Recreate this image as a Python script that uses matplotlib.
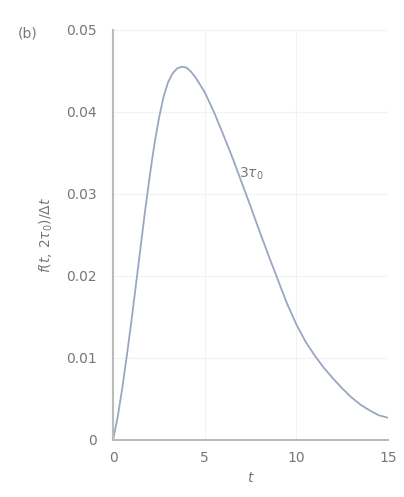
import matplotlib
matplotlib.use("Agg")
import matplotlib.pyplot as plt

# Curve values
t_vals = [0.0, 0.25, 0.5, 0.75, 1.0, 1.25, 1.5, 1.75, 2.0, 2.25, 2.5, 2.75, 3.0, 3.25, 3.5,
          3.75, 4.0, 4.25, 4.5, 5.0, 5.5, 6.0, 6.5, 7.0, 7.5, 8.0, 8.5, 9.0, 9.5, 10.0,
          10.5, 11.0, 11.5, 12.0, 12.5, 13.0, 13.5, 14.0, 14.5, 15.0]
f_vals = [0.0, 0.0028, 0.0063, 0.0103, 0.0145, 0.0190, 0.0235, 0.0280, 0.0322, 0.0360,
          0.0392, 0.0418, 0.0436, 0.0447, 0.0453, 0.0455, 0.0454, 0.0449, 0.0442, 0.0424,
          0.0400, 0.0373, 0.0345, 0.0315, 0.0285, 0.0254, 0.0224, 0.0195, 0.0166, 0.0141,
          0.0120, 0.0103, 0.0088, 0.0075, 0.0063, 0.0052, 0.0043, 0.0036, 0.0030, 0.0027]

x_ticks = [0, 5, 10, 15]
y_ticks = [0, 0.01, 0.02, 0.03, 0.04, 0.05]
y_tick_labels = ["0", "0.01", "0.02", "0.03", "0.04", "0.05"]

fig = plt.figure(figsize=(4.04, 4.97), dpi=100)
ax = fig.add_axes([0.28, 0.115, 0.68, 0.825])

ax.plot(t_vals, f_vals, color="#9aa6c4", lw=1.3)

ax.set_xlim(0, 15)
ax.set_ylim(0, 0.05)
ax.set_xticks(x_ticks)
ax.set_xticklabels([str(v) for v in x_ticks])
ax.set_yticks(y_ticks)
ax.set_yticklabels(y_tick_labels)
ax.tick_params(colors="#777777", labelsize=10, length=0)
ax.tick_params(axis="y", pad=12)
ax.tick_params(axis="x", pad=8)
for s in ["top", "right"]:
    ax.spines[s].set_visible(False)
for s in ["left", "bottom"]:
    ax.spines[s].set_color("#bbbbbb")
    ax.spines[s].set_linewidth(1.5)
ax.grid(True, color="#f2f2f2", lw=0.8)

ax.set_xlabel("$t$", color="#777777", fontsize=10, labelpad=4)
ax.set_ylabel(r"$f(t,\,2\tau_0)/\Delta t$", color="#777777", fontsize=10, labelpad=8)
ax.text(6.9, 0.0320, r"$3\tau_0$", color="#777777", fontsize=10)
fig.text(0.045, 0.925, "(b)", color="#777777", fontsize=10)

fig.savefig("out.png", dpi=100)
